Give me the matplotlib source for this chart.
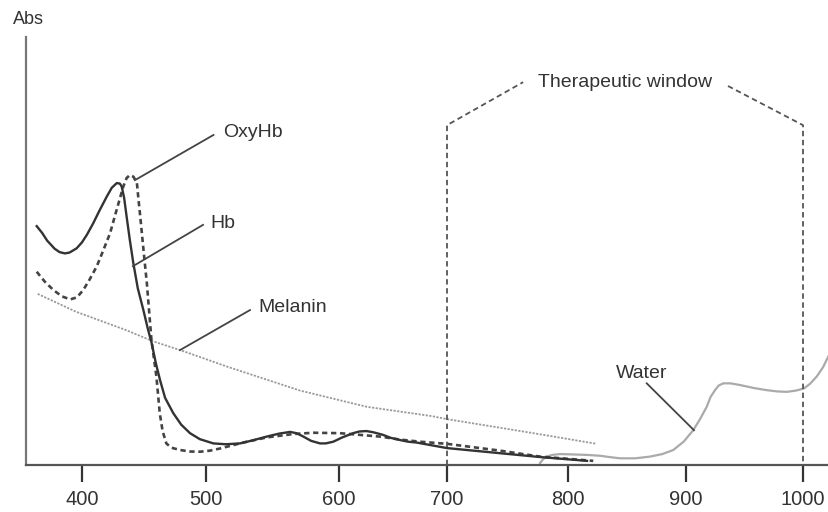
import numpy as np
import matplotlib
matplotlib.use("Agg")
import matplotlib.pyplot as plt

plt.rcParams['font.family'] = ['Liberation Sans', 'DejaVu Sans']

# ---- data (wavelength nm, absorbance arbitrary units) ----
hb_nm = [363.6, 368.0, 372.0, 378.0, 382.0, 386.3, 390.0, 395.7, 400.0, 404.0, 409.1,
         414.0, 419.9, 424.0, 428.0, 430.5, 432.0, 434.0, 436.0, 438.5, 441.4, 445.0,
         449.5, 453.0, 456.2, 459.5, 462.9, 467.0, 473.6, 480.0, 487.1, 495.0, 505.5,
         515.0, 525.6, 535.0, 545.6, 555.0, 563.2, 568.0, 573.2, 579.0, 585.7, 590.0,
         595.7, 603.0, 613.0, 619.0, 625.4, 632.0, 640.8, 648.0, 656.3, 664.0, 671.9,
         700.0, 743.8, 776.9, 816.1]
hb_abs = [55.6, 54.0, 52.2, 50.3, 49.5, 49.2, 49.4, 50.4, 51.8, 53.6, 56.3,
          59.2, 62.5, 64.6, 65.7, 65.6, 64.9, 62.2, 57.8, 52.5, 46.9, 41.0,
          35.9, 31.6, 28.1, 23.5, 19.5, 15.3, 11.7, 9.0, 7.0, 5.6, 4.6,
          4.4, 4.6, 5.3, 6.2, 6.9, 7.3, 7.0, 6.2, 5.2, 4.6, 4.6,
          5.0, 6.0, 7.0, 7.4, 7.5, 7.2, 6.6, 5.9, 5.4, 5.0, 4.8,
          3.5, 2.3, 1.4, 0.5]

oxy_nm = [363.6, 370.0, 377.0, 384.0, 390.6, 396.0, 401.0, 406.0, 411.8, 417.0, 422.6,
          428.0, 433.3, 436.0, 438.6, 441.5, 444.3, 445.5, 447.0, 449.6, 452.3, 456.0,
          460.0, 462.7, 465.0, 468.0, 472.0, 479.0, 487.0, 495.2, 503.0, 510.5, 528.0,
          545.6, 565.6, 580.7, 600.9, 619.4, 637.9, 656.5, 675.0, 700.0, 743.8, 776.9,
          821.4]
oxy_abs = [44.9, 42.6, 40.6, 39.1, 38.4, 38.9, 40.6, 43.0, 46.1, 49.8, 53.9,
           59.5, 64.9, 66.9, 67.6, 67.2, 65.7, 62.0, 57.8, 50.0, 42.2, 28.9,
           20.3, 11.7, 7.5, 4.6, 3.6, 3.05, 2.7, 2.65, 2.9, 3.4, 4.8,
           6.0, 6.8, 7.1, 7.0, 6.6, 6.2, 5.5, 5.0, 4.5, 2.9, 1.5,
           0.5]

mel_nm = [364.4, 395.2, 435.5, 457.0, 481.2, 516.1, 570.7, 625.6, 686.0, 700.0, 771.4, 824.3]
mel_abs = [39.7, 35.5, 31.2, 28.6, 26.3, 22.6, 17.0, 13.2, 11.0, 10.3, 7.0, 4.5]

water_nm = [776.9, 779.5, 782.4, 787.0, 793.4, 805.0, 815.8, 827.1, 835.0, 844.1, 857.0,
            869.5, 880.0, 889.2, 898.0, 906.2, 912.0, 917.7, 921.0, 924.8, 928.0, 931.9,
            938.0, 946.2, 958.0, 969.0, 978.0, 986.1, 994.0, 1000.8, 1006.0, 1011.6,
            1017.0, 1021.4]
water_abs = [0.0, 0.9, 1.5, 1.9, 2.1, 2.0, 1.9, 1.7, 1.4, 1.1, 1.1,
             1.5, 2.1, 3.05, 5.0, 7.7, 10.3, 13.2, 15.5, 17.1, 18.2, 18.7,
             18.7, 18.3, 17.6, 17.1, 16.8, 16.7, 17.0, 17.5, 18.6, 20.3,
             22.5, 25.0]

# therapeutic window outline
win_nm = [700, 700, 762.9]
win_abs = [-0.5, 79.3, 89.4]
win2_nm = [935.9, 1000, 1000]
win2_abs = [88.5, 79.3, -0.5]

ticks = [400, 500, 600, 700, 800, 900, 1000]
tick_labels = ['400', '500', '600', '700', '800', '900', '1000']

# non-uniform axis of the original drawing (nm -> drawing position)
scale_nm = [300, 355, 400, 500, 600, 700, 800, 900, 1000, 1022, 1100]
scale_pos = [-19, 26, 82, 206, 339, 447, 568, 686, 803, 829, 921]

def fwd(x):
    return np.interp(x, scale_nm, scale_pos)

def inv(p):
    return np.interp(p, scale_pos, scale_nm)

fig = plt.figure(figsize=(8.29, 5.12), dpi=100)
ax = fig.add_axes([26/829, (512-465)/512, (829-26)/829, (465-37)/512])
ax.set_xscale('function', functions=(fwd, inv))
ax.set_xlim(355, 1022)
ax.set_ylim(-0.47, 100)

ax.plot(mel_nm, mel_abs, color='#9a9a9a', lw=1.3, linestyle=(0, (1.2, 0.8)))
ax.plot(water_nm, water_abs, color='#aaaaaa', lw=1.6, solid_joinstyle='round')
ax.plot(oxy_nm, oxy_abs, color='#444444', lw=1.9, linestyle=(0, (2.0, 1.4)))
ax.plot(hb_nm, hb_abs, color='#333333', lw=1.7, solid_joinstyle='round')

ax.plot(win_nm, win_abs, color='#555555', lw=1.3, linestyle=(0, (3, 2)), clip_on=False)
ax.plot(win2_nm, win2_abs, color='#555555', lw=1.3, linestyle=(0, (3, 2)), clip_on=False)
ax.text(848.3, 89.4, 'Therapeutic window', fontsize=14, color='#333333',
        ha='center', va='center')

lc = '#444444'
ax.plot([505.6, 442.7], [77.0, 66.4], color=lc, lw=1.3)
ax.text(512.9, 77.5, 'OxyHb', fontsize=14, color='#333333', ha='left', va='center')
ax.plot([497.6, 441.1], [55.9, 46.2], color=lc, lw=1.3)
ax.text(503.2, 56.3, 'Hb', fontsize=14, color='#333333', ha='left', va='center')
ax.plot([533.1, 479.0], [35.9, 26.5], color=lc, lw=1.3)
ax.text(539.1, 36.6, 'Melanin', fontsize=14, color='#333333', ha='left', va='center')
ax.plot([866.7, 906.8], [18.7, 7.7], color=lc, lw=1.3)
ax.text(862.8, 21.1, 'Water', fontsize=14, color='#333333', ha='center', va='center')

for s in ['top', 'right']:
    ax.spines[s].set_visible(False)
ax.spines['left'].set_color('#777777')
ax.spines['left'].set_linewidth(1.6)
ax.spines['bottom'].set_color('#555555')
ax.spines['bottom'].set_linewidth(1.6)

ax.set_xticks(ticks)
ax.set_xticklabels(tick_labels)
ax.tick_params(axis='x', direction='out', length=12, width=1.6, color='#333333',
               labelsize=14.5, labelcolor='#333333', pad=6)
ax.set_yticks([])

fig.text(13/829, 1 - 19/512, 'Abs', fontsize=13, color='#333333', ha='left', va='center')

fig.savefig('out.png', dpi=100)
